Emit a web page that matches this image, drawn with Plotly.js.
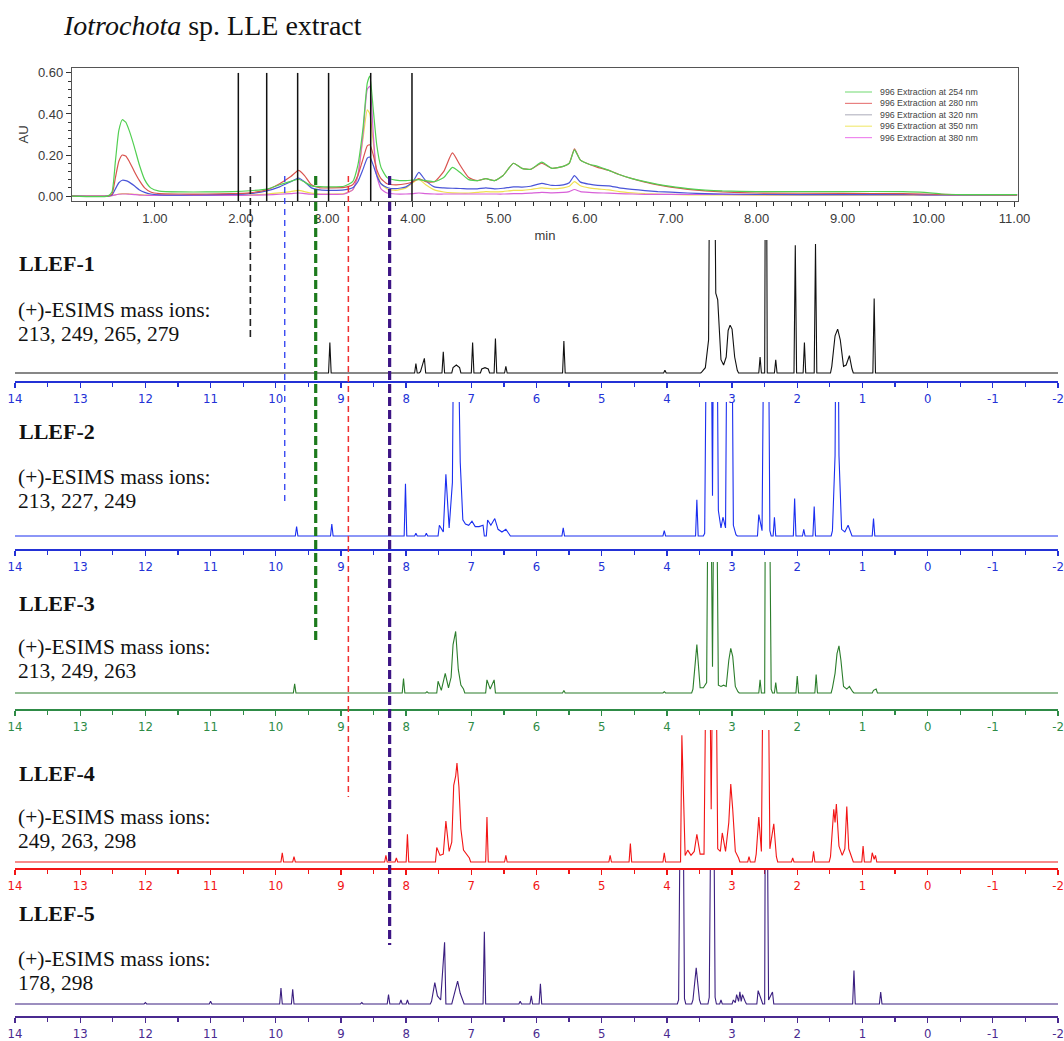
<!DOCTYPE html>
<html><head><meta charset="utf-8">
<script src="https://cdn.plot.ly/plotly-3.0.1.min.js"></script>
<style>html,body{margin:0;padding:0;background:#fff}#chart{width:1064px;height:1041px}</style>
</head><body><div id="chart"></div>
<script>
// ---------------- HPLC chromatogram (AU vs min) ----------------
const retentionTime = [0.03,0.45,0.50,0.54,0.58,0.62,0.66,0.70,0.76,0.82,0.88,0.95,1.05,1.30,1.60,1.90,2.10,2.30,2.45,2.58,2.67,2.74,2.82,2.92,3.05,3.20,3.30,3.36,3.42,3.47,3.50,3.54,3.58,3.63,3.70,3.80,3.92,4.00,4.07,4.15,4.25,4.36,4.46,4.55,4.65,4.75,4.85,4.95,5.05,5.17,5.27,5.37,5.50,5.62,5.75,5.82,5.88,5.95,6.05,6.15,6.28,6.40,6.55,6.70,6.85,7.00,7.20,7.40,7.60,8.00,9.00,9.70,9.95,10.15,10.40,11.03];
const au254 = [0.000,0.000,0.020,0.170,0.320,0.372,0.360,0.320,0.240,0.150,0.080,0.040,0.024,0.020,0.020,0.022,0.026,0.034,0.055,0.072,0.082,0.068,0.050,0.046,0.045,0.048,0.070,0.150,0.330,0.550,0.585,0.420,0.250,0.140,0.090,0.078,0.075,0.078,0.080,0.075,0.070,0.090,0.140,0.115,0.080,0.075,0.085,0.075,0.100,0.160,0.135,0.130,0.165,0.135,0.145,0.160,0.225,0.175,0.155,0.145,0.125,0.105,0.085,0.070,0.057,0.047,0.036,0.029,0.025,0.022,0.022,0.022,0.018,0.010,0.007,0.007];
const au280 = [0.000,0.000,0.010,0.090,0.170,0.200,0.195,0.170,0.120,0.075,0.040,0.020,0.012,0.010,0.010,0.012,0.016,0.030,0.060,0.095,0.125,0.100,0.055,0.040,0.040,0.042,0.055,0.100,0.180,0.245,0.250,0.200,0.130,0.085,0.060,0.055,0.060,0.070,0.085,0.070,0.070,0.120,0.210,0.150,0.090,0.075,0.085,0.075,0.100,0.160,0.135,0.130,0.160,0.135,0.145,0.160,0.230,0.175,0.155,0.140,0.125,0.105,0.085,0.068,0.055,0.044,0.033,0.025,0.020,0.015,0.013,0.012,0.010,0.008,0.007,0.006];
const au320 = [0.000,0.000,0.005,0.035,0.065,0.077,0.075,0.068,0.050,0.030,0.018,0.010,0.006,0.005,0.006,0.008,0.012,0.025,0.045,0.070,0.088,0.070,0.040,0.030,0.028,0.030,0.040,0.070,0.130,0.185,0.190,0.150,0.100,0.060,0.042,0.036,0.045,0.070,0.115,0.075,0.045,0.040,0.038,0.037,0.035,0.035,0.040,0.035,0.038,0.045,0.044,0.048,0.062,0.052,0.055,0.065,0.100,0.068,0.058,0.052,0.050,0.040,0.033,0.027,0.022,0.019,0.015,0.012,0.010,0.008,0.007,0.007,0.006,0.006,0.006,0.006];
const au350 = [0.000,0.000,0.002,0.006,0.010,0.012,0.012,0.011,0.009,0.007,0.005,0.004,0.003,0.003,0.003,0.003,0.005,0.010,0.016,0.022,0.028,0.022,0.014,0.010,0.010,0.012,0.030,0.100,0.280,0.420,0.400,0.260,0.120,0.060,0.035,0.028,0.040,0.065,0.082,0.055,0.030,0.020,0.016,0.015,0.015,0.018,0.022,0.020,0.022,0.028,0.028,0.032,0.040,0.035,0.040,0.048,0.070,0.050,0.040,0.035,0.030,0.022,0.016,0.012,0.010,0.008,0.006,0.006,0.006,0.005,0.005,0.005,0.005,0.004,0.004,0.004];
const au380 = [0.000,0.000,0.002,0.006,0.009,0.010,0.010,0.009,0.007,0.005,0.004,0.003,0.003,0.003,0.003,0.003,0.004,0.006,0.009,0.012,0.015,0.012,0.009,0.008,0.008,0.010,0.030,0.100,0.300,0.520,0.535,0.300,0.100,0.035,0.015,0.010,0.010,0.012,0.015,0.012,0.010,0.010,0.010,0.010,0.010,0.010,0.010,0.010,0.010,0.012,0.012,0.014,0.018,0.016,0.018,0.022,0.032,0.022,0.018,0.016,0.014,0.012,0.010,0.008,0.008,0.008,0.008,0.008,0.008,0.007,0.007,0.007,0.006,0.006,0.006,0.006];
const wavelengthNames = ['996 Extraction at 254 nm','996 Extraction at 280 nm','996 Extraction at 320 nm','996 Extraction at 350 nm','996 Extraction at 380 nm'];
const fractionBounds = [1.97, 2.30, 2.66, 3.02, 3.51, 3.99];   // black solid lines (min)
const fractionMarks  = [2.11, 2.51, 2.87, 3.25, 3.73];         // coloured dashed markers (min)

// ---------------- 1H NMR spectra (ppm, relative intensity) ----------------
const fractionNames = ['LLEF-1','LLEF-2','LLEF-3','LLEF-4','LLEF-5'];
const massIons = ['213, 249, 265, 279','213, 227, 249','213, 249, 263','249, 263, 298','178, 298'];
const llef1Ppm = [9.17,7.85,7.78,7.72,7.43,7.28,7.23,7.18,6.98,6.84,6.79,6.74,6.63,6.47,5.58,4.03,3.46,3.41,3.36,3.33,3.29,3.25,3.22,3.17,3.13,3.09,3.06,3.03,3.00,2.96,2.92,2.57,2.48,2.33,2.03,1.89,1.72,1.47,1.42,1.38,1.34,1.29,1.25,1.20,1.16,0.82];
const llef1Int = [23,7,1,11,16,4,6,4,23,3,4,3,26,5,24,2,1,4,25,300,300,60,55,10,6,12,32,36,33,12,2,12,300,10,96,23,97,5,28,33,25,5,6,13,3,56];
const llef2Ppm = [9.68,9.14,8.01,7.85,7.69,7.49,7.43,7.39,7.34,7.29,7.25,7.21,7.17,7.13,7.09,7.04,6.99,6.94,6.88,6.82,6.75,6.70,6.64,6.59,6.53,6.47,6.42,5.59,4.04,3.54,3.42,3.37,3.34,3.30,3.27,3.25,3.21,3.17,3.14,3.10,3.06,3.02,2.98,2.94,2.59,2.54,2.49,2.46,2.42,2.35,2.04,1.90,1.74,1.46,1.42,1.39,1.36,1.32,1.27,1.22,1.18,0.83];
const llef2Int = [7,9,39,2,2,8,3,46,6,40,300,300,55,12,9,8,11,7,7,8,12,8,13,5,3,5,1,6,4,27,2,300,300,30,300,300,19,6,14,6,300,300,8,1,16,4,300,300,4,14,28,5,22,4,60,300,60,5,3,8,2,13];
const llef3Ppm = [9.71,8.04,7.68,7.51,7.46,7.40,7.35,7.31,7.28,7.24,7.20,7.16,7.12,6.76,6.71,6.65,5.58,4.04,3.60,3.54,3.49,3.44,3.39,3.35,3.30,3.26,3.21,3.17,3.13,3.09,3.05,3.02,2.99,2.95,2.91,2.57,2.48,2.45,2.40,2.33,2.00,1.71,1.46,1.42,1.39,1.36,1.33,1.29,1.24,1.20,1.15,0.83,0.79];
const llef3Int = [7,11,1,9,2,15,4,12,37,47,18,6,3,10,3,10,2,1,3,37,4,4,8,300,20,300,6,5,6,5,25,34,28,5,1,10,300,300,3,8,13,14,4,15,30,36,25,5,3,5,1,2,3];
const llef4Ppm = [9.90,9.72,8.31,8.15,7.98,7.53,7.48,7.43,7.39,7.34,7.30,7.27,7.24,7.22,7.19,7.16,7.12,7.08,7.03,6.76,6.47,4.87,4.56,4.04,3.77,3.72,3.68,3.63,3.58,3.54,3.49,3.43,3.37,3.32,3.27,3.22,3.18,3.15,3.10,3.05,3.02,2.99,2.95,2.90,2.74,2.63,2.59,2.55,2.50,2.47,2.42,2.36,2.32,2.07,1.75,1.49,1.44,1.42,1.40,1.36,1.31,1.27,1.24,1.21,1.16,0.99,0.85,0.82,0.80];
const llef4Int = [7,4,5,3,21,11,5,6,31,8,15,58,65,75,57,25,9,6,3,34,5,5,14,7,96,5,9,5,8,21,6,6,300,40,300,10,8,22,8,30,59,40,8,3,4,6,34,8,300,300,10,29,4,3,8,4,40,30,44,12,5,10,42,10,3,12,7,2,5];
const llef5Ppm = [12.00,11.00,9.92,9.74,8.68,8.27,8.08,7.98,7.61,7.56,7.52,7.47,7.41,7.28,7.24,7.21,7.17,7.13,6.80,6.25,6.08,5.94,3.82,3.77,3.73,3.60,3.55,3.50,3.35,3.30,3.26,3.17,2.98,2.95,2.93,2.90,2.88,2.86,2.84,2.80,2.60,2.55,2.48,2.44,2.38,1.13,0.72];
const llef5Int = [1,2,12,11,1,7,3,3,2,16,6,3,46,4,13,17,8,3,54,2,6,15,3,300,4,3,27,3,5,300,5,3,3,1,7,2,9,2,7,2,10,3,300,3,9,25,9];
const ppmTickVals = [14,13,12,11,10,9,8,7,6,5,4,3,2,1,0,-1,-2];
const ppmTickText = ['14','13','12','11','10','9','8','7','6','5','4','3','2','1','0','-1','-2'];

// ---------------- styling / geometry ----------------
const W = 1064, H = 1041;
const px = v => v / W, py = v => 1 - v / H;
const chromColors = ['#52cf52','#d9534f','#4a55d8','#efe050','#d860d8'];
const legendColors = ['#86e086','#e88080','#b8b8c4','#f2ea7a','#ee88ee'];
const drawOrder = [3,4,2,1,0];
const chromSeries = [au254, au280, au320, au350, au380];
const specColors = ['#111111','#1a2ef0','#2b7d2b','#f21515','#3b1f80'];
const axisColors = ['#2331d6','#2331d6','#2e8b46','#f21515','#4a2a90'];
const panels = [
  {axis:381, top:240, base:373, lab:263, ion1:310, ion2:334},
  {axis:549, top:402, base:536, lab:432, ion1:477, ion2:501},
  {axis:709, top:562, base:693, lab:603, ion1:647, ion2:671},
  {axis:868, top:730, base:862, lab:773, ion1:817, ion2:841},
  {axis:1016,top:870, base:1004,lab:913, ion1:959, ion2:983}
];
const markStyle = [
  {c:'#222222', w:1.6, d:'7px,4px', y1:340},
  {c:'#2b3cf0', w:1.3, d:'6px,5px', y1:505},
  {c:'#1c7a1c', w:3.2, d:'9px,4px', y1:640},
  {c:'#f03030', w:1.5, d:'6px,4px', y1:797},
  {c:'#3d1585', w:3.2, d:'9px,4px', y1:945}
];

function buildSpectrum(ppm, inten){
  const HW = 0.02, JOIN = 0.065;
  const xs = [14.3], ys = [0];
  for (let i = 0; i < ppm.length; i++){
    const prevGap = i > 0 ? ppm[i-1] - ppm[i] : Infinity;
    const nextGap = i < ppm.length - 1 ? ppm[i] - ppm[i+1] : Infinity;
    if (prevGap > JOIN){ xs.push(ppm[i] + HW); ys.push(0); }
    xs.push(ppm[i]); ys.push(inten[i]);
    if (nextGap > JOIN){ xs.push(ppm[i] - HW); ys.push(0); }
  }
  xs.push(-2.3); ys.push(0);
  return {xs, ys};
}

const data = [];
drawOrder.forEach(i => {
  data.push({type:'scatter', mode:'lines', x:retentionTime, y:chromSeries[i], xaxis:'x', yaxis:'y',
    line:{color:chromColors[i], width:1.2, shape:'spline', smoothing:0.5}, name:wavelengthNames[i], showlegend:false, hoverinfo:'skip'});
});
const specPpm = [llef1Ppm, llef2Ppm, llef3Ppm, llef4Ppm, llef5Ppm];
const specInt = [llef1Int, llef2Int, llef3Int, llef4Int, llef5Int];
specPpm.forEach((p, k) => {
  const s = buildSpectrum(p, specInt[k]);
  data.push({type:'scatter', mode:'lines', x:s.xs, y:s.ys, xaxis:'x'+(k+2), yaxis:'y'+(k+2),
    line:{color:specColors[k], width:1.1}, showlegend:false, hoverinfo:'skip', name:fractionNames[k]});
});

const sansFont = 'Liberation Sans, Arial, sans-serif';
const serifFont = 'Liberation Serif, Times New Roman, serif';
const narrowFont = 'Liberation Sans Narrow, DejaVu Sans Condensed, sans-serif';

const layout = {
  width: W, height: H, margin:{l:0,r:0,t:0,b:0}, paper_bgcolor:'#fff', plot_bgcolor:'rgba(0,0,0,0)',
  showlegend:false,
  xaxis:{domain:[px(72), px(1018)], range:[0.035, 11.04], anchor:'y', tickmode:'linear', tick0:0, dtick:1, tickformat:'.2f',
    ticks:'outside', ticklen:5, tickwidth:1, tickcolor:'#333', showline:true, linecolor:'#555', linewidth:1.2, mirror:true,
    showgrid:false, zeroline:false, tickfont:{family:sansFont, size:13, color:'#3a3a3a'},
    minor:{dtick:0.2, ticks:'outside', ticklen:4, tickcolor:'#333'},
    title:{text:'min', font:{family:sansFont, size:13, color:'#3a3a3a'}, standoff:6}},
  yaxis:{domain:[py(201), py(68)], range:[-0.024, 0.624], anchor:'x', tickmode:'linear', tick0:0, dtick:0.2, tickformat:'.2f',
    ticks:'outside', ticklen:5, tickcolor:'#333', showline:true, linecolor:'#555', linewidth:1.2, mirror:true,
    showgrid:false, zeroline:false, tickfont:{family:sansFont, size:13, color:'#3a3a3a'},
    minor:{dtick:0.04, ticks:'outside', ticklen:3, tickcolor:'#333'},
    title:{text:'AU', font:{family:sansFont, size:13, color:'#3a3a3a'}, standoff:6}},
  shapes:[], annotations:[]
};

const minorVals = ppmTickVals.slice(0, -1).map((v, i) => (v + ppmTickVals[i+1]) / 2);
panels.forEach((g, k) => {
  const r = 100 * (g.axis - g.base) / (g.base - g.top);
  layout['xaxis'+(k+2)] = {domain:[px(15), px(1058)], range:[14, -2], anchor:'y'+(k+2),
    tickmode:'array', tickvals:ppmTickVals, ticktext:ppmTickText, ticks:'outside', ticklen:5, tickwidth:1.3,
    tickcolor:axisColors[k], showline:true, linecolor:axisColors[k], linewidth:1.6, showgrid:false, zeroline:false,
    tickfont:{family:narrowFont, size:13, color:axisColors[k]},
    minor:{tickmode:'array', tickvals:minorVals, ticks:'outside', ticklen:4, tickwidth:1.2, tickcolor:axisColors[k]}};
  layout['yaxis'+(k+2)] = {domain:[py(g.axis), py(g.top)], range:[-r, 100], anchor:'x'+(k+2), visible:false, fixedrange:true};
  layout.annotations.push(
    {xref:'paper', yref:'paper', x:px(17), y:py(g.lab), xanchor:'left', yanchor:'middle', showarrow:false,
     text:'<b>'+fractionNames[k]+'</b>', font:{family:serifFont, size:22, color:'#111'}},
    {xref:'paper', yref:'paper', x:px(16), y:py(g.ion1), xanchor:'left', yanchor:'middle', showarrow:false,
     text:'(+)-ESIMS mass ions:', font:{family:serifFont, size:21.5, color:'#111'}},
    {xref:'paper', yref:'paper', x:px(16), y:py(g.ion2), xanchor:'left', yanchor:'middle', showarrow:false,
     text:massIons[k], font:{family:serifFont, size:21.5, color:'#111'}});
});

// title
layout.annotations.push({xref:'paper', yref:'paper', x:px(61), y:py(25), xanchor:'left', yanchor:'middle', showarrow:false,
  text:'<i>Iotrochota</i> sp. LLE extract', font:{family:serifFont, size:28, color:'#111'}});

// chromatogram legend (drawn in-plot)
wavelengthNames.forEach((n, i) => {
  const yy = 92 + i * 11.4;
  layout.shapes.push({type:'line', xref:'paper', yref:'paper', x0:px(845), x1:px(872), y0:py(yy), y1:py(yy),
    line:{color:legendColors[i], width:1.2}});
  layout.annotations.push({xref:'paper', yref:'paper', x:px(878), y:py(yy), xanchor:'left', yanchor:'middle', showarrow:false,
    text:n, font:{family:sansFont, size:8.8, color:'#444'}});
});

// fraction boundaries (black solid lines in chromatogram)
fractionBounds.forEach(t => layout.shapes.push({type:'line', xref:'x', yref:'y', x0:t, x1:t, y0:-0.024, y1:0.60,
  line:{color:'#111', width:1.5}}));
// fraction markers (dashed lines spanning chromatogram and spectra)
fractionMarks.forEach((t, i) => {
  const s = markStyle[i];
  layout.shapes.push({type:'line', xref:'x', yref:'paper', x0:t, x1:t, y0:py(176), y1:py(s.y1),
    line:{color:s.c, width:s.w, dash:s.d}});
});

Plotly.newPlot('chart', data, layout, {displayModeBar:false, staticPlot:true});
</script>
</body></html>
